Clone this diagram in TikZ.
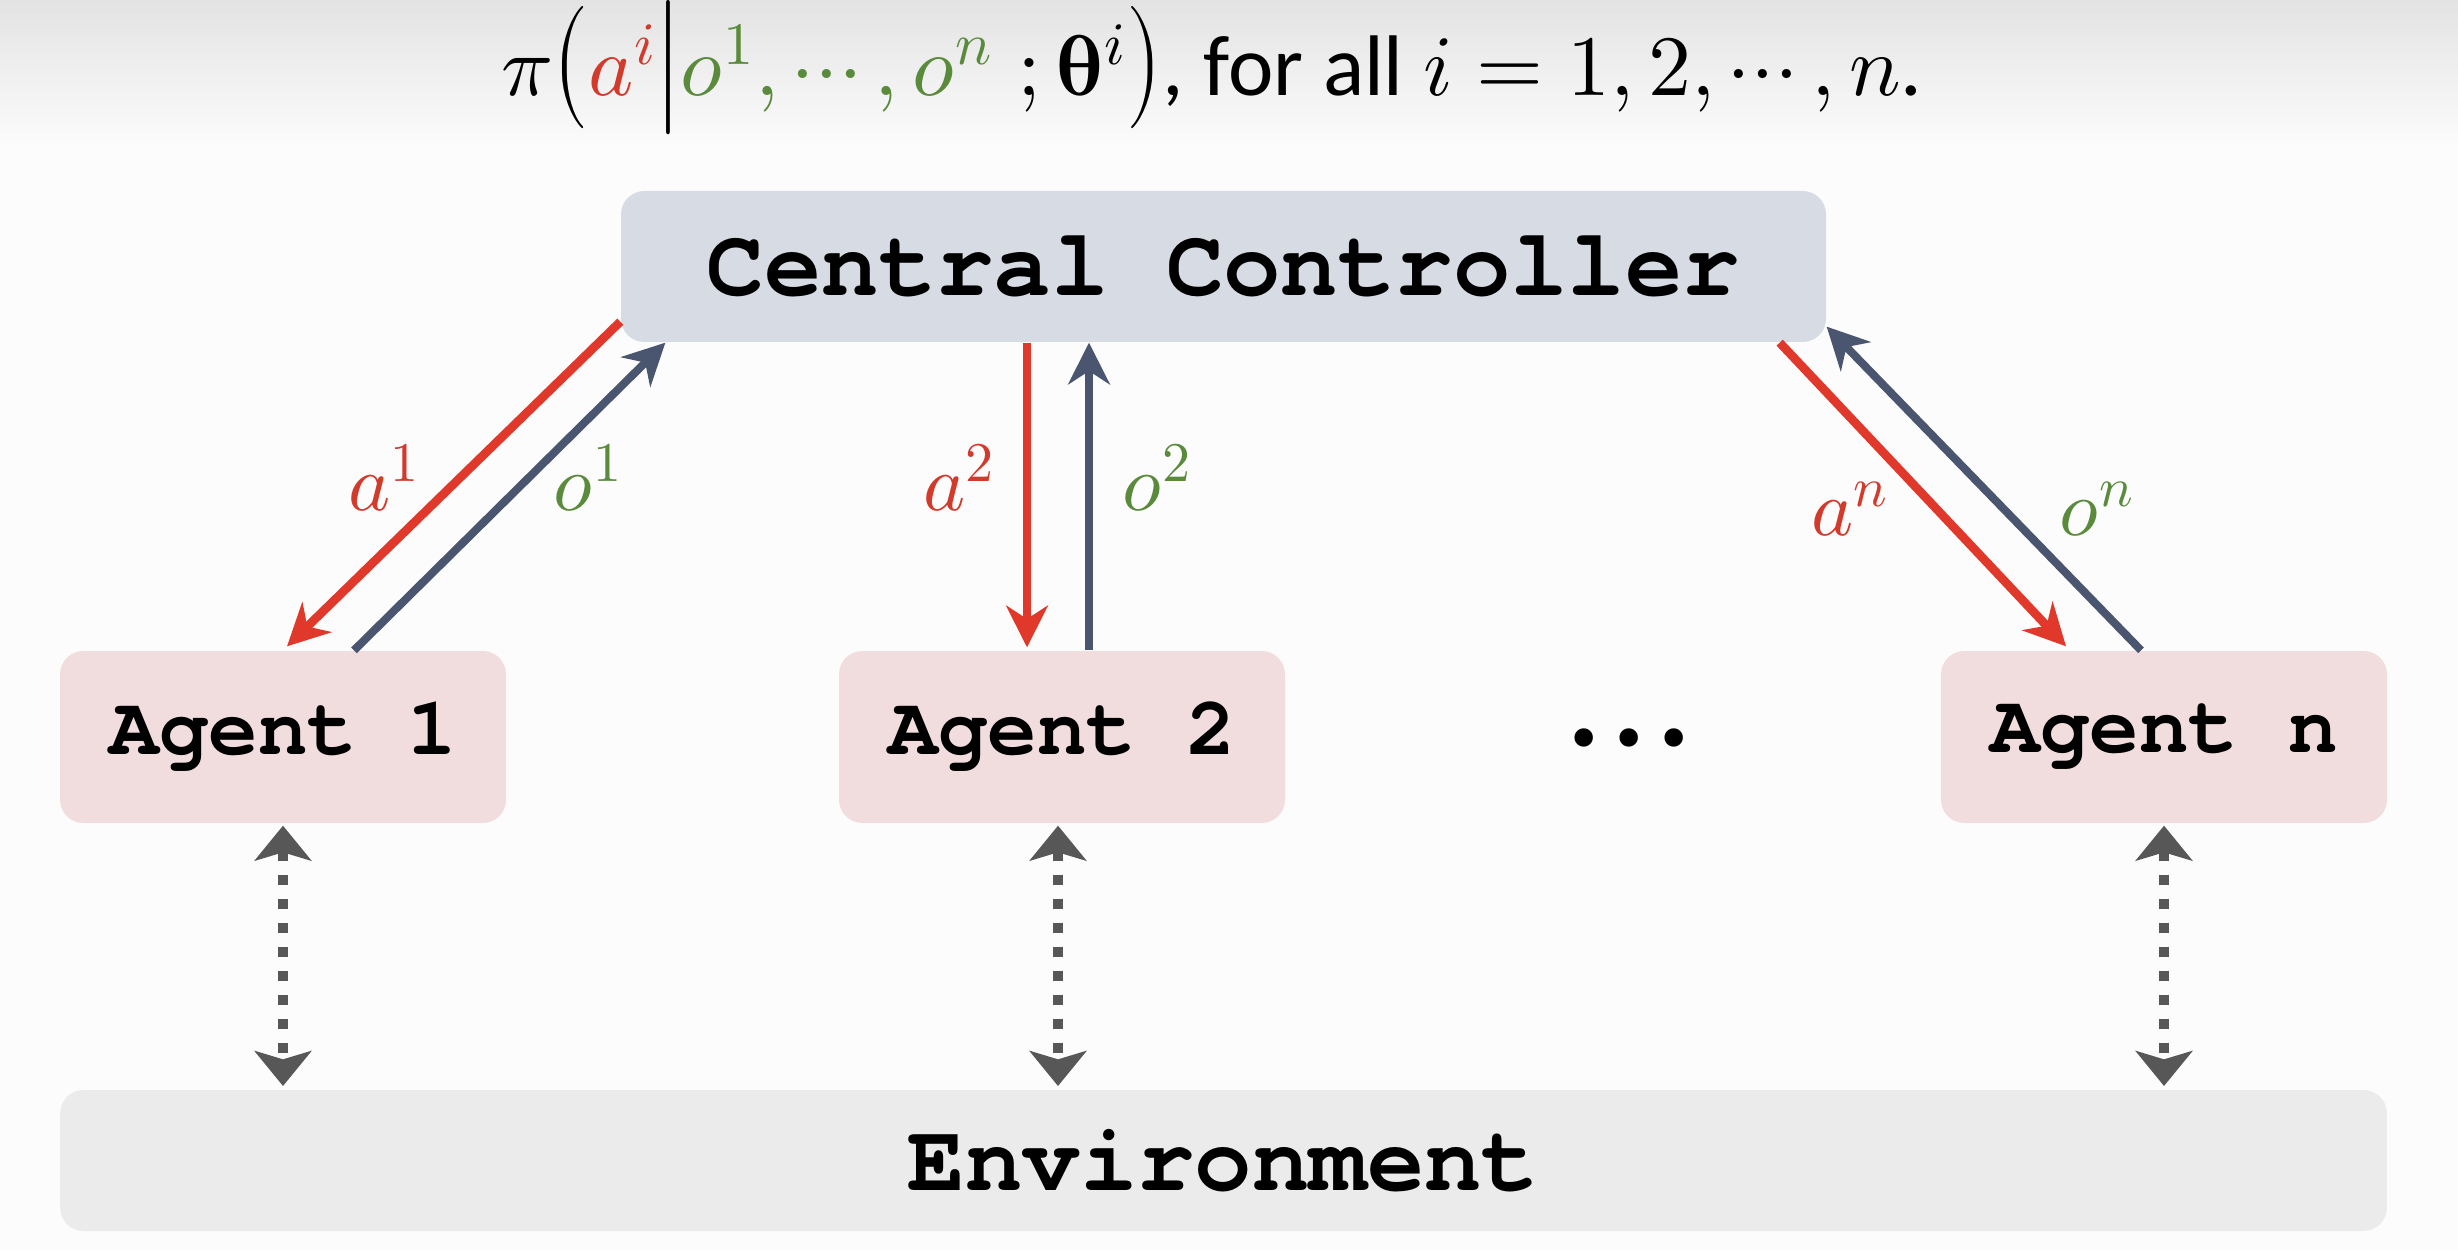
\documentclass[tikz,border=0pt]{standalone}
\usepackage{graphicx}
\usepackage{fontspec}
\usepackage{unicode-math}
\setmainfont{Carlito}
\setmathfont{Latin Modern Math}
\newfontfamily\cmono{TeX Gyre Cursor}
\newfontfamily\dejavu{DejaVu Sans}
\usetikzlibrary{arrows.meta,calc}
\definecolor{ccfill}{HTML}{D6DBE4}
\definecolor{agfill}{HTML}{F2DDDE}
\definecolor{envfill}{HTML}{EBEBEB}
\definecolor{ared}{HTML}{E0392B}
\definecolor{lred}{HTML}{D23A2C}
\definecolor{ogreen}{HTML}{5A8A3C}
\definecolor{oblue}{HTML}{4A5570}
\definecolor{dgray}{HTML}{575757}
\newcommand{\tallL}{\mathopen{\scalebox{1}[1.3]{$\bigl($}}}
\newcommand{\tallR}{\mathclose{\scalebox{1}[1.3]{$\bigr)$}}}
\newcommand{\tallM}{\mathord{\scalebox{1}[1.3]{$\big|$}}}
\tikzset{
  ccbox/.style={fill=ccfill, rounded corners=7pt, minimum width=361.5pt, minimum height=45.3pt, inner sep=0pt,
    font=\cmono\bfseries\fontsize{28.7}{34}\selectfont},
  agbox/.style={fill=agfill, rounded corners=7pt, minimum width=133.8pt, minimum height=51.6pt, inner sep=0pt,
    font=\cmono\bfseries\fontsize{24.8}{30}\selectfont},
  envbox/.style={fill=envfill, rounded corners=7pt, minimum width=698pt, minimum height=42.3pt, inner sep=0pt,
    font=\cmono\bfseries\fontsize{28.7}{34}\selectfont},
  aarrow/.style={draw=ared, line width=2.6pt, -{Stealth[length=12.5pt,width=12.5pt,inset=4pt]}},
  oarrow/.style={draw=oblue, line width=2.4pt, -{Stealth[length=12.5pt,width=12.5pt,inset=4pt]}},
  envarrow/.style={draw=dgray, line width=3pt, dash pattern=on 3pt off 4.2pt,
    {Stealth[length=10.5pt,width=17pt,inset=2.5pt]}-{Stealth[length=10.5pt,width=17pt,inset=2.5pt]},
    shorten <=0.6pt, shorten >=1pt},
  lbl/.style={font=\fontsize{24}{28}\selectfont, inner sep=0pt}
}
\begin{document}
\begin{tikzpicture}[x=0.3pt,y=-0.3pt]
\useasboundingbox (0,0) rectangle (2458,1250);
\fill[white!99!black] (0,0) rectangle (2458,1250);
\shade[top color=black!11, bottom color=white!99!black] (0,0) rectangle (2458,150);
\node[inner sep=0pt] (title) at (1212,68) {\fontsize{25.8}{30}\selectfont
  $\pi\tallL{\color{lred}a^i}\tallM{\color{ogreen}o^1,\cdots,o^n}\;;\symbfup{\theta}^i\tallR$, for all $i=1,2,\cdots,n$.};
\node[ccbox] (cc) at (1223.5,266.5) {Central Controller};
\node[agbox] (a1) at (283,737) {Agent 1};
\node[agbox] (a2) at (1062,737) {Agent 2};
\node[agbox] (an) at (2164,737) {Agent n};
\node[font=\dejavu\fontsize{19}{22}\selectfont, inner sep=0pt] (dots) at (1629,745) {•\kern2.2pt•\kern2.2pt•};
\node[envbox] (env) at (1223.5,1160.5) {Environment};
% agent 1
\draw[aarrow] ($(cc.south west)+(0,-21)$) -- ($(a1.north)+(4,-4)$);
\draw[oarrow] ($(a1.north)+(71,0)$) -- ($(cc.south west)+(45,0)$);
% agent 2
\draw[aarrow] ($(cc.south)+(-196.5,0)$) -- ($(a2.north)+(-35,-3)$);
\draw[oarrow] ($(a2.north)+(27,0)$) -- ($(cc.south)+(-134.5,0)$);
% agent n
\draw[aarrow] ($(cc.south east)+(-47,0)$) -- ($(an.north)+(-98,-4)$);
\draw[oarrow] ($(an.north)+(-23,0)$) -- ($(cc.south east)+(0,-16)$);
% labels
\node[lbl] (la1) at (384,478) {$\color{lred}a^1$};
\node[lbl] (lo1) at (588,478) {$\color{ogreen}o^1$};
\node[lbl] (la2) at (959,478) {$\color{lred}a^2$};
\node[lbl] (lo2) at (1157,478) {$\color{ogreen}o^2$};
\node[lbl] (lan) at (1850,509) {$\color{lred}a^n$};
\node[lbl] (lon) at (2097,509) {$\color{ogreen}o^n$};
% environment links
\draw[envarrow] (a1.south) -- (a1.south |- env.north);
\draw[envarrow] ($(a2.south)+(-4,0)$) -- ($(a2.south |- env.north)+(-4,0)$);
\draw[envarrow] (an.south) -- (an.south |- env.north);
\end{tikzpicture}
\end{document}
